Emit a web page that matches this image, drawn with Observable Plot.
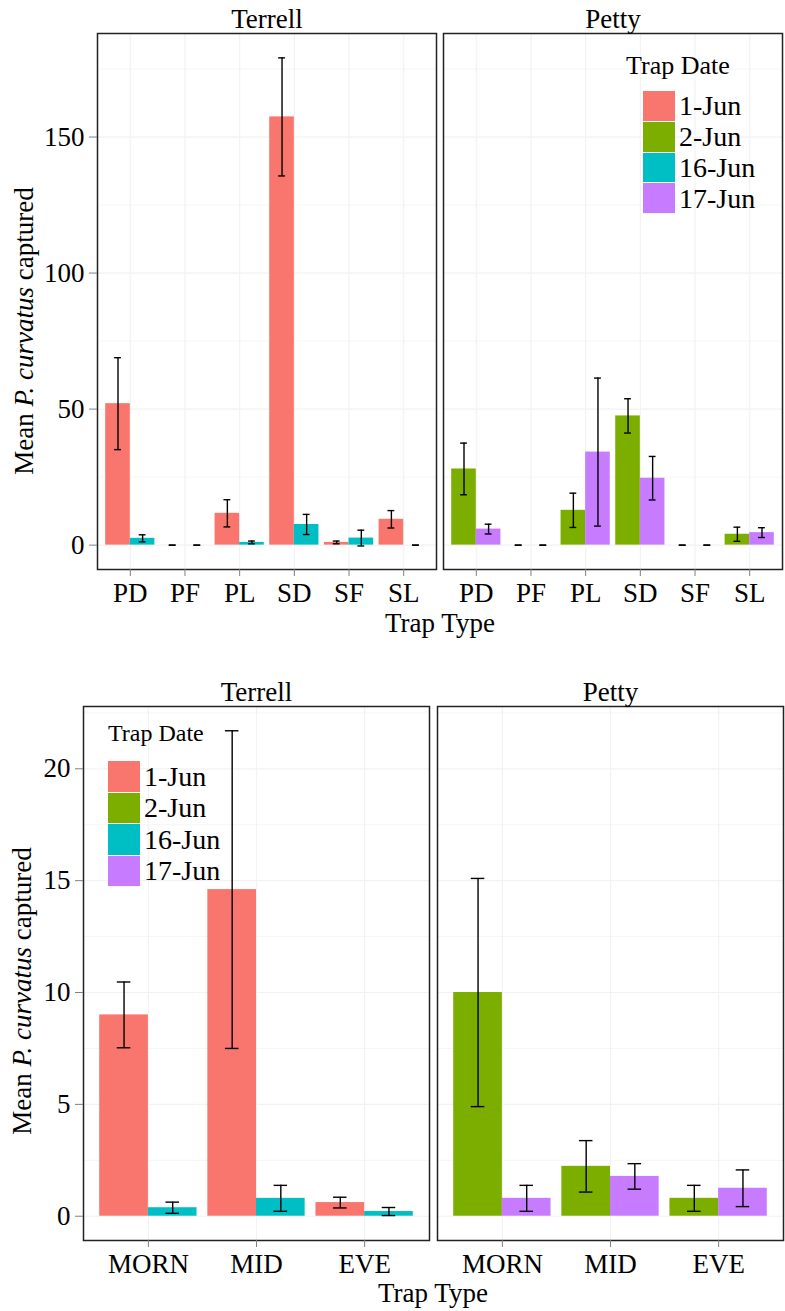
<!DOCTYPE html>
<html>
<head>
<meta charset="utf-8">
<script src="https://cdn.jsdelivr.net/npm/d3@7"></script>
<script src="https://cdn.jsdelivr.net/npm/@observablehq/plot@0.6"></script>
<style>
  html, body { margin: 0; padding: 0; background: white; }
  #wrap { position: relative; width: 785px; height: 1311px; font-family: 'Liberation Serif', 'Times New Roman', serif; }
  #wrap svg { display: block; }
  .legend { position: absolute; color: black; }
  .legend .title { position: absolute; white-space: nowrap; }
  .legend .row { position: absolute; display: flex; align-items: center; white-space: nowrap; }
  .legend .key { width: 32px; flex: none; box-sizing: border-box; border-bottom: 1px solid #f4f4f4; }
  .legend .lab { margin-left: 4px; font-size: 28px; }
</style>
</head>
<body>
<div id="wrap"></div>
<script>
// ---------- data ----------
const sites = ["Terrell", "Petty"];
const dates = ["1-Jun", "2-Jun", "16-Jun", "17-Jun"];
const dateColors = ["#F8766D", "#7CAE00", "#00BFC4", "#C77CFF"];
const siteDates = { Terrell: ["1-Jun", "16-Jun"], Petty: ["2-Jun", "17-Jun"] };

// Top chart: by trap type
const topTypes = ["PD", "PF", "PL", "SD", "SF", "SL"];
const topTerrell1Jun    = [52.0, 0, 11.7, 157.4, 1.0, 9.5];
const topTerrell1JunSE  = [16.9, 0, 5.0, 21.7, 0.5, 3.2];
const topTerrell16Jun   = [2.5, 0, 1.0, 7.6, 2.6, 0];
const topTerrell16JunSE = [1.3, 0, 0.5, 3.7, 2.9, 0];
const topPetty2Jun      = [28.0, 0, 12.8, 47.5, 0, 4.0];
const topPetty2JunSE    = [9.5, 0, 6.3, 6.3, 0, 2.6];
const topPetty17Jun     = [5.9, 0, 34.2, 24.6, 0, 4.6];
const topPetty17JunSE   = [1.8, 0, 27.2, 8.0, 0, 1.8];
const topYTicks = [0, 50, 100, 150];
const topYMinor = [25, 75, 125, 175];

// Bottom chart: by time of day
const botTypes = ["MORN", "MID", "EVE"];
const botTerrell1Jun    = [9.0, 14.6, 0.61];
const botTerrell1JunSE  = [1.47, 7.1, 0.24];
const botTerrell16Jun   = [0.38, 0.8, 0.21];
const botTerrell16JunSE = [0.25, 0.58, 0.18];
const botPetty2Jun      = [10.0, 2.23, 0.8];
const botPetty2JunSE    = [5.1, 1.15, 0.58];
const botPetty17Jun     = [0.8, 1.78, 1.25];
const botPetty17JunSE   = [0.58, 0.57, 0.82];
const botYTicks = [0, 5, 10, 15, 20];
const botYMinor = [2.5, 7.5, 12.5, 17.5, 22.5];

// ---------- build rows ----------
function buildRows(types, series) {
  const rows = [];
  for (const s of series) {
    const slot = siteDates[s.site].indexOf(s.date);
    s.values.forEach((v, i) => rows.push({ site: s.site, date: s.date, type: types[i], i, slot, value: v, se: s.se[i] }));
  }
  return rows;
}
const topRows = buildRows(topTypes, [
  { site: "Terrell", date: "1-Jun", values: topTerrell1Jun, se: topTerrell1JunSE },
  { site: "Terrell", date: "16-Jun", values: topTerrell16Jun, se: topTerrell16JunSE },
  { site: "Petty", date: "2-Jun", values: topPetty2Jun, se: topPetty2JunSE },
  { site: "Petty", date: "17-Jun", values: topPetty17Jun, se: topPetty17JunSE }
]);
const botRows = buildRows(botTypes, [
  { site: "Terrell", date: "1-Jun", values: botTerrell1Jun, se: botTerrell1JunSE },
  { site: "Terrell", date: "16-Jun", values: botTerrell16Jun, se: botTerrell16JunSE },
  { site: "Petty", date: "2-Jun", values: botPetty2Jun, se: botPetty2JunSE },
  { site: "Petty", date: "17-Jun", values: botPetty17Jun, se: botPetty17JunSE }
]);

const FONT = "'Liberation Serif', 'Times New Roman', serif";
const BARW = 0.9, CAPW = 0.25;

function chart({ types, rows, yTicks, yMinor, height, marginTop, marginBottom, marginLeft, fxPad }) {
  const n = types.length;
  const half = BARW / 2;
  const ymax = d3.max(rows, d => d.value + d.se);
  const center = d => d.i - half / 2 + d.slot * half;
  return Plot.plot({
    width: 785, height, marginLeft, marginRight: 2, marginTop, marginBottom,
    style: { fontFamily: FONT, fontSize: "27px", color: "black", background: "white", overflow: "visible" },
    fx: { domain: sites, paddingInner: fxPad, paddingOuter: 0, label: null },
    x: { domain: [-0.6, n - 1 + 0.6], label: null },
    y: { domain: [-0.05 * ymax, 1.05 * ymax], label: null },
    color: { domain: dates, range: dateColors },
    marks: [
      Plot.gridY(yMinor, { stroke: "#f6f6f6", strokeOpacity: 1, strokeWidth: 1 }),
      Plot.gridY(yTicks, { stroke: "#f2f2f2", strokeOpacity: 1, strokeWidth: 1.2 }),
      Plot.gridX(d3.range(n), { stroke: "#f2f2f2", strokeOpacity: 1, strokeWidth: 1.2 }),
      Plot.rectY(rows, { fx: "site", x1: d => d.i - half + d.slot * half, x2: d => d.i + d.slot * half, y1: 0, y2: "value", fill: "date" }),
      Plot.ruleX(rows, { fx: "site", x: center, y1: d => d.value - d.se, y2: d => d.value + d.se, stroke: "black", strokeWidth: 1.4 }),
      Plot.ruleY(rows, { fx: "site", x1: d => center(d) - CAPW / 4, x2: d => center(d) + CAPW / 4, y: d => d.value + d.se, stroke: "black", strokeWidth: 1.4 }),
      Plot.ruleY(rows, { fx: "site", x1: d => center(d) - CAPW / 4, x2: d => center(d) + CAPW / 4, y: d => d.value - d.se, stroke: "black", strokeWidth: 1.4 }),
      Plot.frame({ stroke: "#222", strokeWidth: 1.5 }),
      Plot.axisY(yTicks, { tickSize: 8, tickPadding: 5, stroke: "#7f7f7f", strokeOpacity: 1, fill: "black", fontSize: 27, label: null }),
      Plot.axisX(d3.range(n), { tickFormat: i => types[i], tickSize: 7, tickPadding: 6, stroke: "#7f7f7f", strokeOpacity: 1, fill: "black", fontSize: 27, label: null }),
      Plot.axisFx({ anchor: "top", tickSize: 0, tickPadding: 6, fontSize: 27, fill: "black", label: null })
    ]
  });
}

function addTitles(svg, ylabX, ylabY, xlabX, xlabY) {
  const s = d3.select(svg);
  const t = s.append("text")
    .attr("transform", `translate(${ylabX},${ylabY}) rotate(-90)`)
    .attr("text-anchor", "middle")
    .attr("font-family", FONT).attr("font-size", 27).attr("fill", "black");
  t.append("tspan").text("Mean ");
  t.append("tspan").attr("font-style", "italic").text("P. curvatus");
  t.append("tspan").text(" captured");
  s.append("text")
    .attr("x", xlabX).attr("y", xlabY)
    .attr("text-anchor", "middle")
    .attr("font-family", FONT).attr("font-size", 27).attr("fill", "black")
    .text("Trap Type");
}

function addLegend(parent, { left, top, titleSize, titleTop, keyTop, keyH, labLeft }) {
  const div = document.createElement("div");
  div.className = "legend";
  div.style.left = left + "px";
  div.style.top = top + "px";
  const title = document.createElement("div");
  title.className = "title";
  title.style.fontSize = titleSize + "px";
  title.style.left = "0px";
  title.style.top = titleTop + "px";
  title.textContent = "Trap Date";
  div.appendChild(title);
  dates.forEach((d, k) => {
    const row = document.createElement("div");
    row.className = "row";
    row.style.left = labLeft + "px";
    row.style.top = (keyTop + k * keyH) + "px";
    row.style.height = keyH + "px";
    const key = document.createElement("div");
    key.className = "key";
    key.style.height = keyH + "px";
    key.style.background = dateColors[k];
    const lab = document.createElement("span");
    lab.className = "lab";
    lab.textContent = d;
    row.appendChild(key);
    row.appendChild(lab);
    div.appendChild(row);
  });
  parent.appendChild(div);
}

const wrap = document.getElementById("wrap");

const topChart = chart({ types: topTypes, rows: topRows, yTicks: topYTicks, yMinor: topYMinor,
  height: 655, marginTop: 33, marginBottom: 86, marginLeft: 97, fxPad: 0.02 });
addTitles(topChart, 33, 331, 440, 632);
wrap.appendChild(topChart);

const botChart = chart({ types: botTypes, rows: botRows, yTicks: botYTicks, yMinor: botYMinor,
  height: 656, marginTop: 51, marginBottom: 71, marginLeft: 83, fxPad: 0.0226 });
addTitles(botChart, 31, 336, 433, 647);
wrap.appendChild(botChart);

addLegend(wrap, { left: 626, top: 45, titleSize: 26, titleTop: 6, keyTop: 46, keyH: 30.75, labLeft: 17 });
addLegend(wrap, { left: 108, top: 715, titleSize: 24, titleTop: 5, keyTop: 46, keyH: 31.5, labLeft: 0 });
</script>
</body>
</html>
